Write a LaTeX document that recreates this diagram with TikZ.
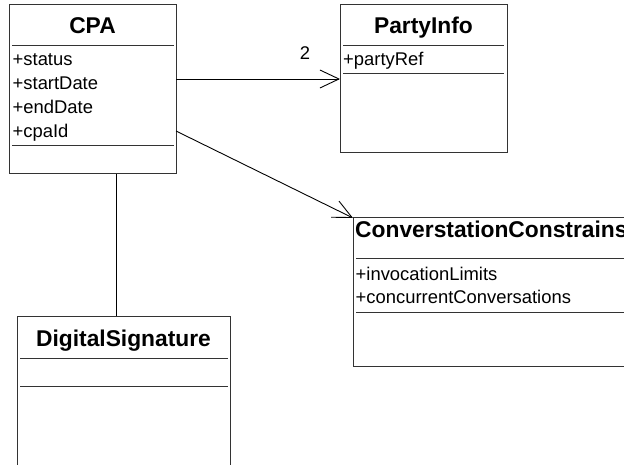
\documentclass[tikz,border=0pt]{standalone}
\usepackage{fontspec}
\setmainfont{Liberation Sans}
\usetikzlibrary{arrows.meta,calc}
\begin{document}
\begin{tikzpicture}[x=1pt,y=-1pt,
  umlbox/.style={draw=black!80, line width=1pt, rectangle, anchor=north west, inner sep=0pt, outer sep=0pt},
  ttl/.style={font=\fontsize{22.8}{23}\selectfont\bfseries, inner sep=0pt, anchor=base},
  attr/.style={font=\fontsize{18.4}{19}\selectfont, anchor=base west, inner sep=0pt},
  sepline/.style={draw=black!80, line width=1pt},
  conn/.style={draw=black, line width=0.9pt},
  opentip/.style={-{Straight Barb[length=19pt,width=18pt,line width=0.9pt]}}
]
\useasboundingbox (0,0) rectangle (624,465);
\clip (0,0) rectangle (624,465);

% CPA
\node[umlbox, minimum width=167pt, minimum height=169pt] (cpa) at (9,5) {};
\node[ttl] (cpaT) at (92.5,34) {CPA};
\draw[sepline] ($(cpa.north west)+(3,41)$) -- ($(cpa.north east)+(-2,41)$);
\node[attr] (a1) at (12.5,66) {+status};
\node[attr] (a2) at (12.5,90) {+startDate};
\node[attr] (a3) at (12.5,114) {+endDate};
\node[attr] (a4) at (12.5,138) {+cpaId};
\draw[sepline] ($(cpa.north west)+(3,141)$) -- ($(cpa.north east)+(-2,141)$);

% PartyInfo
\node[umlbox, minimum width=167pt, minimum height=148pt] (party) at (340,5) {};
\node[ttl] (partyT) at (423.5,34) {PartyInfo};
\draw[sepline] ($(party.north west)+(3,41)$) -- ($(party.north east)+(-3,41)$);
\node[attr] (p1) at (343,66) {+partyRef};
\draw[sepline] ($(party.north west)+(3,69)$) -- ($(party.north east)+(-3,69)$);

% ConverstationConstrains
\node[umlbox, minimum width=300pt, minimum height=148pt] (conv) at (353,218) {};
\node[ttl, anchor=base west] (convT) at (355,238) {ConverstationConstrains};
\draw[sepline] ($(conv.north west)+(3,41)$) -- ($(conv.north east)+(-3,41)$);
\node[attr] (c1) at (355.5,280) {+invocationLimits};
\node[attr] (c2) at (355.5,303) {+concurrentConversations};
\draw[sepline] ($(conv.north west)+(3,94)$) -- ($(conv.north east)+(-3,94)$);

% DigitalSignature
\node[umlbox, minimum width=213pt, minimum height=200pt] (ds) at (17,316) {};
\node[ttl] (dsT) at (123.5,346) {DigitalSignature};
\draw[sepline] ($(ds.north west)+(3,42)$) -- ($(ds.north east)+(-2,42)$);
\draw[sepline] ($(ds.north west)+(3,70)$) -- ($(ds.north east)+(-2,70)$);

% connectors
\draw[conn, opentip] (cpa.east |- party.west) -- (party.west);
\node[font=\fontsize{18.4}{19}\selectfont, anchor=base, inner sep=0pt] (mult) at (305,60) {2};
\coordinate (cpaR) at ($(cpa.north east)+(0,126)$);
\draw[conn, opentip] (cpaR) -- (conv.north west);
\draw[conn] ($(cpa.south west)+(107,0)$) -- ($(ds.north west)+(99,0)$);
\end{tikzpicture}
\end{document}
